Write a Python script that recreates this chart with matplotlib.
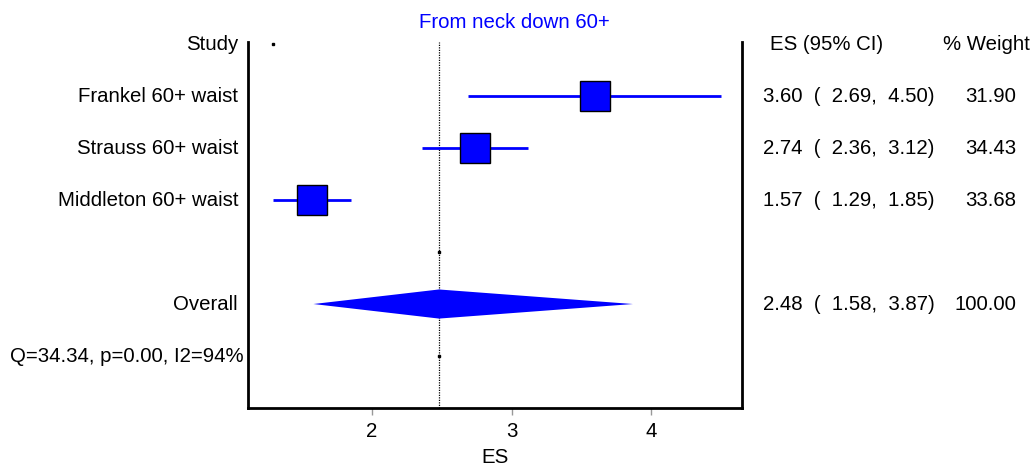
import matplotlib
matplotlib.use("Agg")
import matplotlib.pyplot as plt
from matplotlib.patches import Polygon

plt.rcParams['font.family'] = ['Liberation Sans', 'DejaVu Sans']

# --- data ---
studies = ["Frankel 60+ waist", "Strauss 60+ waist", "Middleton 60+ waist"]
es = [3.60, 2.74, 1.57]
ci_low = [2.69, 2.36, 1.29]
ci_high = [4.50, 3.12, 1.85]
weights = [31.90, 34.43, 33.68]

overall_es = 2.48
overall_low = 1.58
overall_high = 3.87
overall_weight = 100.00
het_label = "Q=34.34, p=0.00, I2=94%"
title = "From neck down 60+"

xticks = [2, 3, 4]

# row positions (top to bottom)
row_header = 7
study_rows = [6, 5, 4]
row_blank = 3
row_overall = 2
row_het = 1

BLUE = "#0000ff"
FS = 14.7

fig = plt.figure(figsize=(10.34, 4.67), dpi=100)
ax = fig.add_axes([248 / 1034, 59 / 467, 494 / 1034, 366 / 467])

ax.set_xlim(1.111, 4.652)
ax.set_ylim(0, 7.04)

# reference line at overall estimate
ax.axvline(overall_es, color="black", linestyle=(0, (1, 1)), linewidth=0.9, zorder=1)

# CIs and boxes
for r, e, lo, hi in zip(study_rows, es, ci_low, ci_high):
    ax.plot([lo, hi], [r, r], color=BLUE, linewidth=2, solid_capstyle="butt", zorder=2)
    ax.plot(e, r, marker="s", markersize=21, markerfacecolor=BLUE,
            markeredgecolor="black", markeredgewidth=1, zorder=3)

# overall diamond
h = 0.28
diamond = Polygon([(overall_low, row_overall), (overall_es, row_overall + h),
                   (overall_high, row_overall), (overall_es, row_overall - h)],
                  closed=True, facecolor=BLUE, edgecolor="none", zorder=2)
ax.add_patch(diamond)

# small dots
ax.plot([min(ci_low), overall_es, overall_es], [row_header, row_blank, row_het],
        "s", color="black", markersize=1.5, zorder=4)

# spines / ticks
ax.spines["top"].set_visible(False)
for s in ["left", "right", "bottom"]:
    ax.spines[s].set_linewidth(2)
ax.set_xticks(xticks)
ax.set_xticklabels([str(t) for t in xticks], fontsize=FS)
ax.tick_params(axis="x", length=5, width=1, color="#999999", pad=5)
ax.set_yticks([])
ax.set_xlabel("ES", fontsize=FS, labelpad=5)

ytr = ax.get_yaxis_transform()

# left column
ax.text(-0.0202, row_header, "Study", transform=ytr, ha="right", va="center", fontsize=FS)
for r, name in zip(study_rows, studies):
    ax.text(-0.0202, r, name, transform=ytr, ha="right", va="center", fontsize=FS)
ax.text(-0.0202, row_overall, "Overall", transform=ytr, ha="right", va="center", fontsize=FS)
ax.text(-0.008, row_het, het_label, transform=ytr, ha="right", va="center", fontsize=FS)

# right columns
ax.text(1.0567, row_header, "ES (95% CI)", transform=ytr, ha="left", va="center", fontsize=FS)
ax.text(1.583, row_header, "% Weight", transform=ytr, ha="right", va="center", fontsize=FS)
rows_all = study_rows + [row_overall]
es_all = es + [overall_es]
lo_all = ci_low + [overall_low]
hi_all = ci_high + [overall_high]
w_all = weights + [overall_weight]
for r, e, lo, hi, w in zip(rows_all, es_all, lo_all, hi_all, w_all):
    ax.text(1.0425, r, f"{e:.2f}  (  {lo:.2f},  {hi:.2f})", transform=ytr,
            ha="left", va="center", fontsize=FS)
    ax.text(1.5547, r, f"{w:.2f}", transform=ytr, ha="right", va="center", fontsize=FS)

fig.text(514 / 1034, 1 - 22 / 467, title, color=BLUE, ha="center", va="center", fontsize=FS)

fig.savefig("out.png", dpi=100)
